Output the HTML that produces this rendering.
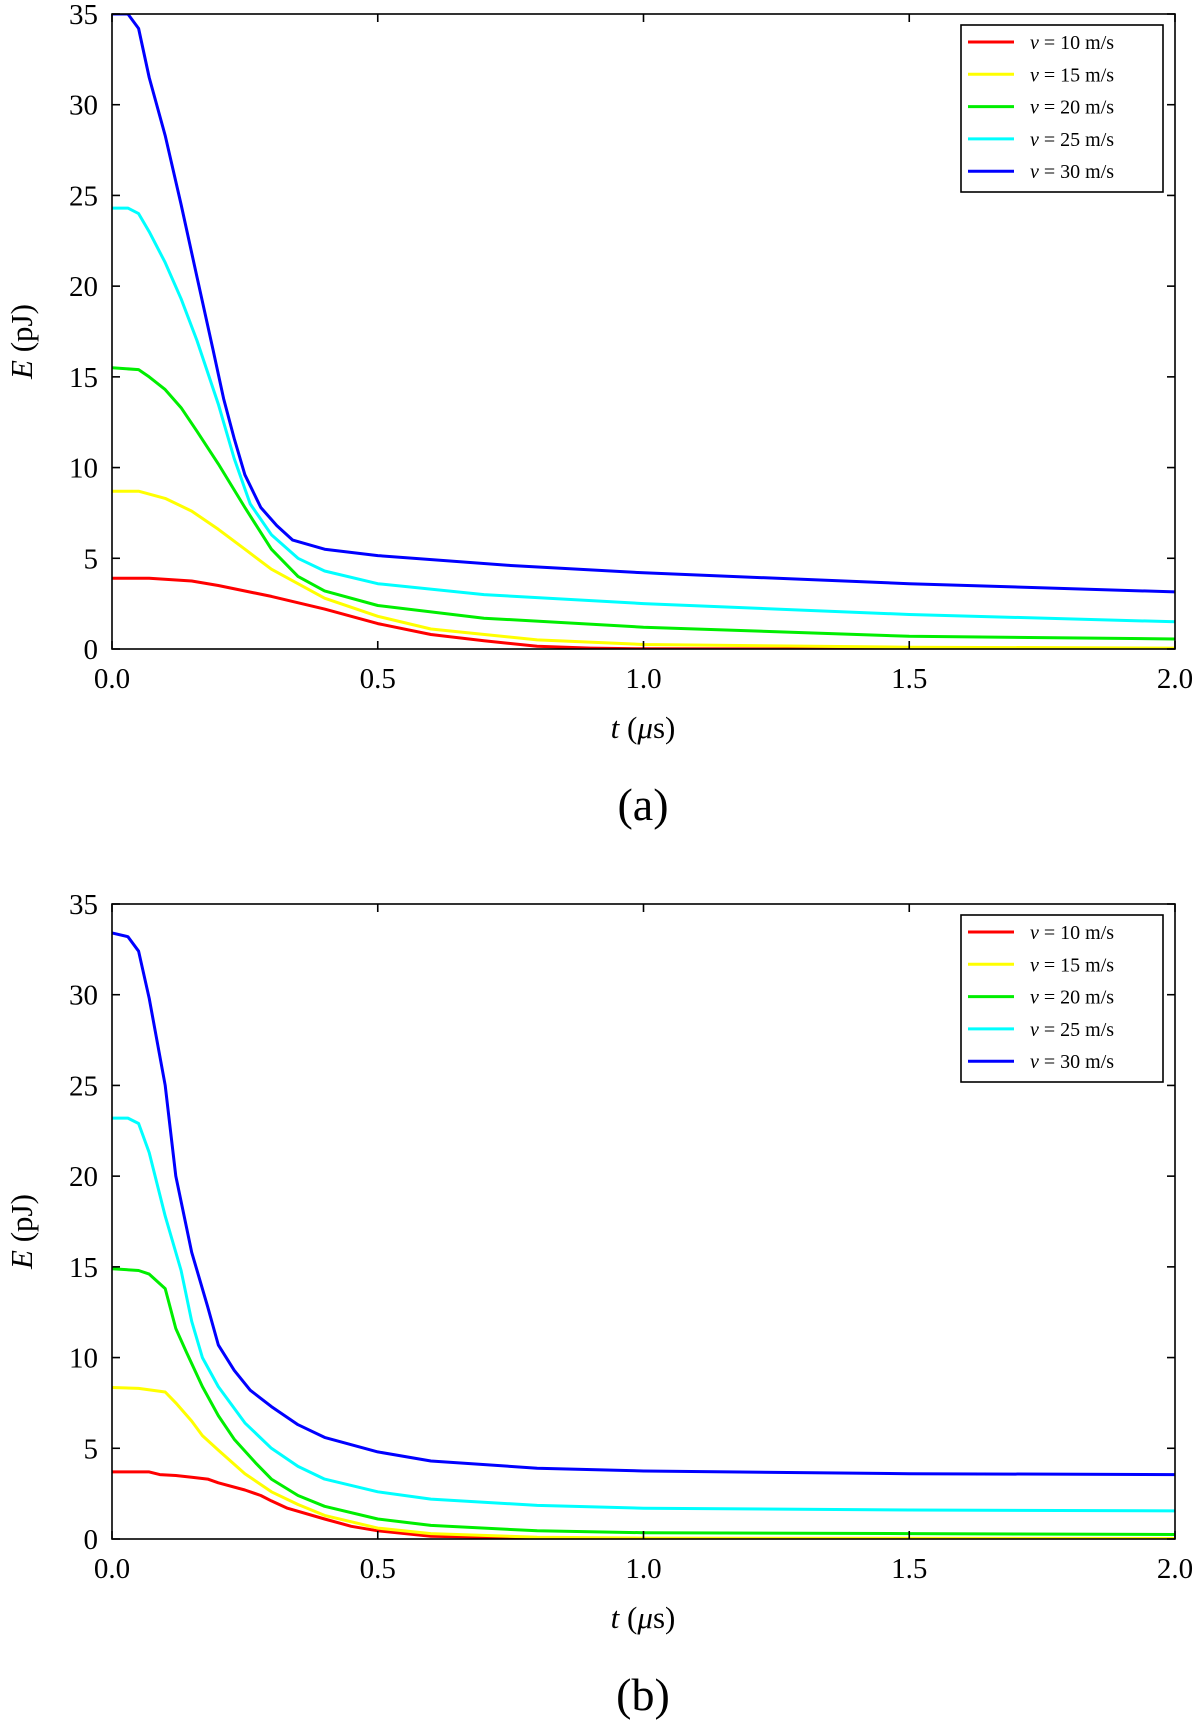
<!DOCTYPE html>
<html><head><meta charset="utf-8"><style>
body{margin:0;background:#fff;}
svg text{font-family:"Liberation Serif","DejaVu Serif",serif;fill:#000;}
</style></head><body>
<svg id="fig" width="1200" height="1721" viewBox="0 0 1200 1721"></svg>
<script>
const xTicks=[0,0.5,1.0,1.5,2.0];
const xTickLabels=["0.0","0.5","1.0","1.5","2.0"];
const yTicks=[0,5,10,15,20,25,30,35];
const yTickLabels=["0","5","10","15","20","25","30","35"];
const seriesNames=["v = 10 m/s","v = 15 m/s","v = 20 m/s","v = 25 m/s","v = 30 m/s"];
const seriesColors=["#ff0000","#ffff00","#00ee00","#00ffff","#0000ff"];
// panel a
const aRedT=[0,0.07,0.15,0.2,0.3,0.4,0.5,0.6,0.7,0.8,0.9,1.0,2.0];
const aRedE=[3.9,3.9,3.75,3.5,2.9,2.2,1.4,0.8,0.45,0.15,0.05,0.01,0];
const aYelT=[0,0.05,0.1,0.15,0.2,0.25,0.3,0.4,0.5,0.6,0.8,1.0,1.5,2.0];
const aYelE=[8.7,8.7,8.3,7.6,6.6,5.5,4.4,2.8,1.8,1.1,0.5,0.25,0.1,0.05];
const aGrnT=[0,0.05,0.07,0.1,0.13,0.16,0.2,0.25,0.3,0.35,0.4,0.5,0.7,1.0,1.5,2.0];
const aGrnE=[15.5,15.4,15,14.3,13.3,12,10.2,7.8,5.5,4,3.2,2.4,1.7,1.2,0.7,0.55];
const aCyaT=[0,0.03,0.05,0.07,0.1,0.13,0.16,0.2,0.23,0.26,0.3,0.35,0.4,0.5,0.7,1.0,1.5,2.0];
const aCyaE=[24.3,24.3,24,23,21.3,19.3,17,13.5,10.5,8,6.3,5,4.3,3.6,3.0,2.5,1.9,1.5];
const aBluT=[0,0.03,0.05,0.07,0.1,0.13,0.16,0.19,0.21,0.23,0.25,0.28,0.31,0.34,0.4,0.5,0.75,1.0,1.5,2.0];
const aBluE=[35,35,34.2,31.5,28.3,24.5,20.5,16.5,13.8,11.6,9.6,7.8,6.8,6.0,5.5,5.15,4.6,4.2,3.6,3.15];
// panel b
const bRedT=[0,0.07,0.09,0.12,0.15,0.18,0.2,0.25,0.28,0.3,0.33,0.4,0.45,0.5,0.6,0.8,1.0,2.0];
const bRedE=[3.7,3.7,3.55,3.5,3.4,3.3,3.1,2.7,2.4,2.1,1.7,1.1,0.7,0.45,0.15,0.05,0.02,0];
const bYelT=[0,0.05,0.1,0.12,0.15,0.17,0.2,0.25,0.3,0.35,0.4,0.5,0.6,0.8,1.0,2.0];
const bYelE=[8.35,8.3,8.1,7.5,6.5,5.7,4.9,3.6,2.6,1.9,1.3,0.6,0.3,0.1,0.05,0.03];
const bGrnT=[0,0.05,0.07,0.1,0.12,0.14,0.17,0.2,0.23,0.27,0.3,0.35,0.4,0.5,0.6,0.8,1.0,1.5,2.0];
const bGrnE=[14.9,14.8,14.6,13.8,11.6,10.3,8.4,6.8,5.5,4.2,3.3,2.4,1.8,1.1,0.75,0.45,0.35,0.3,0.25];
const bCyaT=[0,0.03,0.05,0.07,0.1,0.13,0.15,0.17,0.2,0.25,0.3,0.35,0.4,0.5,0.6,0.8,1.0,1.5,2.0];
const bCyaE=[23.2,23.2,22.9,21.3,17.8,14.8,12,10,8.4,6.4,5,4,3.3,2.6,2.2,1.85,1.7,1.6,1.55];
const bBluT=[0,0.03,0.05,0.07,0.1,0.12,0.15,0.18,0.2,0.23,0.26,0.3,0.35,0.4,0.5,0.6,0.8,1.0,1.5,2.0];
const bBluE=[33.4,33.2,32.4,29.8,25,20,15.8,12.8,10.7,9.3,8.2,7.3,6.3,5.6,4.8,4.3,3.9,3.75,3.6,3.55];

const NS="http://www.w3.org/2000/svg";
const svg=document.getElementById('fig');
function mk(tag,attrs,parent){const e=document.createElementNS(NS,tag);for(const k in attrs)e.setAttribute(k,attrs[k]);(parent||svg).appendChild(e);return e;}

function panel(id,top,label,data){
  const L=112,R=1175,T=top,B=top+635;
  const g=mk('g',{});
  
  
  const xs=t=>L+(R-L)*t/2;
  const ys=e=>B-(B-T)*e/35;
  const clip=mk('clipPath',{id:'clip'+id},g);
  mk('rect',{x:L,y:T,width:R-L,height:B-T},clip);
  const names=['red','yellow','green','cyan','blue'];
  data.forEach((d,i)=>{
    const p=d[0].map((t,j)=>(j?'L':'M')+xs(t).toFixed(1)+','+ys(d[1][j]).toFixed(1)).join(' ');
    const path=mk('path',{d:p,fill:'none',stroke:seriesColors[i],'stroke-width':3,'clip-path':'url(#clip'+id+')','stroke-linejoin':'round'},g);
    
    
  });
  const frame=mk('rect',{x:L,y:T,width:R-L,height:B-T,fill:'none',stroke:'#000','stroke-width':1.6},g);
  
  
  xTicks.forEach((t,i)=>{
    const x=xs(t);
    mk('line',{x1:x,y1:B,x2:x,y2:B-8,stroke:'#000','stroke-width':1.6},g);
    mk('line',{x1:x,y1:T,x2:x,y2:T+8,stroke:'#000','stroke-width':1.6},g);
    const tx=mk('text',{x:x,y:B+39,'font-size':29,'text-anchor':'middle'},g);
    tx.textContent=xTickLabels[i];
    
    
  });
  yTicks.forEach((e,i)=>{
    const y=ys(e);
    mk('line',{x1:L,y1:y,x2:L+8,y2:y,stroke:'#000','stroke-width':1.6},g);
    mk('line',{x1:R,y1:y,x2:R-8,y2:y,stroke:'#000','stroke-width':1.6},g);
    const tx=mk('text',{x:98,y:y+10,'font-size':29,'text-anchor':'end'},g);
    tx.textContent=yTickLabels[i];
    
    
  });
  const xt=mk('text',{x:643,y:B+89,'font-size':31,'text-anchor':'middle'},g);
  xt.innerHTML='<tspan font-style="italic">t</tspan> (<tspan font-style="italic">μ</tspan>s)';
  
  
  const cy=(T+B)/2+10;
  const yt=mk('text',{x:32,y:cy,'font-size':31,'text-anchor':'middle',transform:'rotate(-90 32 '+cy+')'},g);
  yt.innerHTML='<tspan font-style="italic">E</tspan> (pJ)';
  
  
  const cap=mk('text',{x:643,y:B+171,'font-size':46,'text-anchor':'middle'},g);
  cap.textContent=label;
  
  
  const lg=mk('g',{},g);
  
  
  mk('rect',{x:961,y:T+11,width:202,height:167,fill:'#fff',stroke:'#000','stroke-width':1.6},lg);
  seriesNames.forEach((n,i)=>{
    const y=T+28+i*32.3;
    const en=mk('g',{},lg);
    
    
    mk('line',{x1:968,y1:y,x2:1014,y2:y,stroke:seriesColors[i],'stroke-width':3},en);
    const tx=mk('text',{x:1030,y:y+7,'font-size':20},en);
    tx.innerHTML='<tspan font-style="italic">v</tspan> = '+n.slice(4);
  });
}
panel('a',14,'(a)',[[aRedT,aRedE],[aYelT,aYelE],[aGrnT,aGrnE],[aCyaT,aCyaE],[aBluT,aBluE]]);
panel('b',904,'(b)',[[bRedT,bRedE],[bYelT,bYelE],[bGrnT,bGrnE],[bCyaT,bCyaE],[bBluT,bBluE]]);
</script>
</body></html>
